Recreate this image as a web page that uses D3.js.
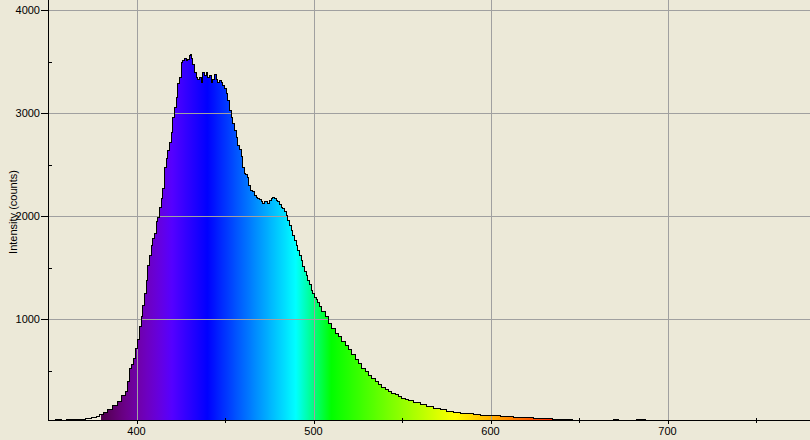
<!DOCTYPE html>
<html><head><meta charset="utf-8">
<script src="https://cdn.jsdelivr.net/npm/d3@7"></script>
<style>html,body{margin:0;padding:0;background:#ECE9D8;overflow:hidden}svg{display:block}</style>
</head><body>
<svg id="chart" width="810" height="440"></svg>
<script>
// ---- data ----
const wavelengths = [350,353,356,359,362,365,368,370,372,374,375.5,376.7,378.5,380.1,382.3,385.1,388.0,390.2,392.7,394.6,395.5,396.4,397.4,398.9,400.2,401.1,402.1,403.1,404.0,404.9,405.9,406.8,407.7,408.7,409.6,410.6,411.5,412.4,413.4,414.4,415.3,415.8,416.2,417.2,418.1,419.0,420.0,420.9,421.9,422.8,423.7,424.7,425.6,426.6,427.5,428.5,429.4,430.3,430.9,431.3,432.2,433.2,434.1,435.0,436.0,436.9,437.9,438.8,439.8,440.7,441.6,442.6,443.5,444.5,445.4,446.3,447.3,448.2,449.2,450.1,451.1,452.0,452.9,453.9,454.8,455.8,456.7,457.6,458.6,459.5,460.5,461.4,462.3,463.3,463.8,465.2,466.1,467.1,468.0,468.9,469.9,470.8,471.8,472.7,473.7,474.6,475.5,476.5,477.4,478.4,479.3,480.2,481.2,482.1,483.1,484.0,485.0,485.9,486.8,487.8,488.7,489.7,490.6,491.5,492.5,493.4,494.4,495.3,496.3,497.2,498.1,499.1,500.0,501.0,501.9,502.8,503.8,505.6,507.6,509.4,511.3,513.2,515.1,516.9,518.9,520.7,522.6,524.5,526.4,528.2,530.2,532.0,533.9,535.8,537.7,539.5,541.5,543.3,545.2,547.1,549.0,550.8,552.8,554.6,558.4,562.1,565.9,569.7,573.4,577.2,581.0,584.7,588.5,592.3,596.0,599.8,603.6,607.3,611.1,614.9,618.6,622.4,626.2,629.9,633.7,636,639.4,642,645,648,650.6,655,660,664,668,671,674,680,685,690,700,720,740,760,780];
const intensities = [22,18,25,20,28,24,30,27,33,36,42,51,60,80,100,129,160,202,257,300,396,525,557,622,719,800,928,1025,1138,1252,1380,1526,1622,1719,1784,1832,1945,1993,2090,2171,2268,2348,2477,2558,2640,2719,2816,2961,3058,3155,3285,3349,3494,3510,3532,3510,3527,3559,3575,3532,3478,3397,3349,3333,3349,3300,3397,3365,3397,3349,3365,3300,3333,3381,3333,3300,3316,3300,3268,3236,3188,3123,3026,2961,2897,2832,2768,2687,2650,2580,2470,2420,2405,2380,2300,2252,2242,2203,2181,2171,2161,2139,2123,2139,2139,2123,2155,2171,2181,2171,2155,2139,2116,2090,2074,2042,2010,1961,1913,1864,1816,1768,1719,1671,1622,1574,1509,1461,1429,1380,1340,1284,1252,1215,1195,1161,1122,1074,1025,961,913,864,832,783,742,703,654,606,574,525,493,451,429,396,364,342,322,299,277,267,251,235,225,210,195,177,154,138,122,106,96,90,83,74,70,67,64,57,54,51,48,45,41,40,36,32,30,27,24,22,21,19,21,18,17,26,16,15,25,15,14,13,12,12,12];
const xMajorTicks = [400,500,600,700];
const xMinorTicks = [450,550,650,750];
const yMajorTicks = [1000,2000,3000,4000];
const yMinorTicks = [500,1500,2500,3500];
const yTitle = "Intensity (counts)";

// ---- layout ----
const W = 810, H = 440;
const axLeft = 48.5, axBottom = 420.5, axTop = 0;
const svg = d3.select("#chart");
const x = d3.scaleLinear().domain([350, 780.5]).range([48, 810]);
const y = d3.scaleLinear().domain([17.5, 4100]).range([axBottom, axTop]);
const data = wavelengths.map((w,i)=>({w, v:intensities[i]}));

// Spectral colour (wavelength -> RGB)
function specColor(w){
  let r,g,b;
  if (w<440){r=-(w-440)/60;g=0;b=1;}
  else if (w<490){r=0;g=(w-440)/50;b=1;}
  else if (w<510){r=0;g=1;b=-(w-510)/20;}
  else if (w<580){r=(w-510)/70;g=1;b=0;}
  else if (w<645){r=1;g=-(w-645)/65;b=0;}
  else {r=1;g=0;b=0;}
  let f=1;
  if (w<420) f=0.3+0.7*(w-380)/40;
  else if (w>700) f=0.3+0.7*(780-w)/80;
  const c = v=>Math.round(255*Math.max(0,Math.min(1,v*f)));
  return d3.rgb(c(r),c(g),c(b)).toString();
}

const defs = svg.append("defs");
const grad = defs.append("linearGradient").attr("id","spec")
  .attr("gradientUnits","userSpaceOnUse")
  .attr("x1",x(350)).attr("x2",x(780)).attr("y1",0).attr("y2",0);
const span = 780-350;
grad.append("stop").attr("offset",0).attr("stop-color","#ECE9D8").attr("stop-opacity",0);
grad.append("stop").attr("offset",(379.9-350)/span).attr("stop-color","#ECE9D8").attr("stop-opacity",0);
for (let w=380; w<=780; w+=2){
  grad.append("stop").attr("offset",(w-350)/span).attr("stop-color",specColor(w));
}
defs.append("clipPath").attr("id","plot").append("rect")
  .attr("x",48).attr("y",0).attr("width",W-48).attr("height",axBottom);

const g = svg.append("g");

// filled area
const area = d3.area().curve(d3.curveStep).x(d=>x(d.w)).y0(axBottom).y1(d=>y(d.v));
g.append("path").datum(data).attr("clip-path","url(#plot)")
  .attr("d",area).attr("fill","url(#spec)").attr("shape-rendering","crispEdges");

// grid lines (drawn over fill)
const grid = g.append("g").attr("stroke","#a0a0a0").attr("stroke-width",1).attr("shape-rendering","crispEdges");
grid.selectAll("line.gx").data(xMajorTicks).join("line")
  .attr("x1",d=>Math.round(x(d))+0.5).attr("x2",d=>Math.round(x(d))+0.5).attr("y1",0).attr("y2",axBottom);
grid.selectAll("line.gy").data(yMajorTicks).join("line")
  .attr("y1",d=>Math.round(y(d))+0.5).attr("y2",d=>Math.round(y(d))+0.5).attr("x1",axLeft).attr("x2",W);

// outline
const line = d3.line().curve(d3.curveStep).x(d=>x(d.w)).y(d=>y(d.v));
g.append("path").datum(data).attr("clip-path","url(#plot)")
  .attr("d",line).attr("fill","none").attr("stroke","#000").attr("stroke-width",1)
  .attr("shape-rendering","crispEdges");

// axes
const ax = g.append("g").attr("stroke","#000").attr("shape-rendering","crispEdges");
ax.append("line").attr("x1",axLeft).attr("x2",axLeft).attr("y1",0).attr("y2",axBottom+0.5);
ax.append("line").attr("x1",48).attr("x2",W).attr("y1",axBottom).attr("y2",axBottom);
ax.selectAll("line.ymaj").data(yMajorTicks).join("line")
  .attr("x1",41).attr("x2",axLeft).attr("y1",d=>Math.round(y(d))+0.5).attr("y2",d=>Math.round(y(d))+0.5);
ax.selectAll("line.ymin").data(yMinorTicks).join("line")
  .attr("x1",axLeft).attr("x2",52).attr("y1",d=>Math.round(y(d))+0.5).attr("y2",d=>Math.round(y(d))+0.5);
ax.selectAll("line.xmaj").data(xMajorTicks).join("line")
  .attr("x1",d=>Math.round(x(d))+0.5).attr("x2",d=>Math.round(x(d))+0.5).attr("y1",axBottom).attr("y2",axBottom+3);
ax.selectAll("line.xmin").data(xMinorTicks).join("line")
  .attr("x1",d=>Math.round(x(d))+0.5).attr("x2",d=>Math.round(x(d))+0.5).attr("y1",axBottom-3).attr("y2",axBottom+2);

// labels
const font = "'Liberation Sans', Arial, sans-serif";
g.selectAll("text.xl").data(xMajorTicks).join("text")
  .attr("x",d=>x(d)).attr("y",435).attr("text-anchor","middle")
  .attr("font-family",font).attr("font-size",11).attr("fill","#000").text(d=>d);
g.selectAll("text.yl").data(yMajorTicks).join("text")
  .attr("x",40).attr("y",d=>y(d)+4).attr("text-anchor","end")
  .attr("font-family",font).attr("font-size",11).attr("fill","#000").text(d=>d);
g.append("text").attr("transform","translate(17,212) rotate(-90)")
  .attr("text-anchor","middle").attr("font-family",font).attr("font-size",11)
  .attr("fill","#000").text(yTitle);
</script>
</body></html>
